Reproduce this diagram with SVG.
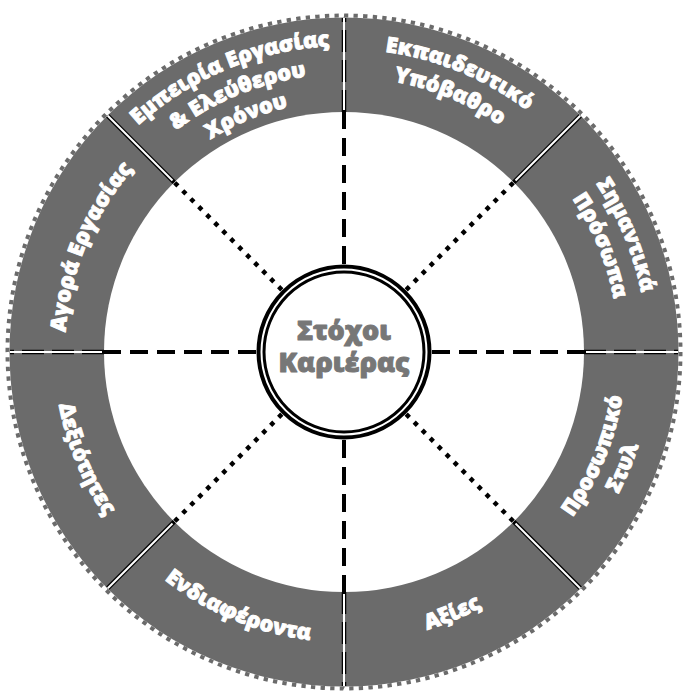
<svg xmlns="http://www.w3.org/2000/svg" xmlns:xlink="http://www.w3.org/1999/xlink" width="685" height="692" viewBox="0 0 685 692">
<style>
.lbl{font-family:"Open Sans","Noto Sans","DejaVu Sans",sans-serif;font-weight:800;font-size:21.5px;fill:#ffffff;stroke:#ffffff;stroke-width:0.9;stroke-linejoin:round;text-anchor:middle}
.ctr{font-family:"Open Sans","Noto Sans","DejaVu Sans",sans-serif;font-weight:800;font-size:27px;fill:#777777;stroke:#777777;stroke-width:1;stroke-linejoin:round;text-anchor:middle}
.dash{stroke:#000;stroke-width:4;stroke-dasharray:18 9;fill:none}
.dot{stroke:#000;stroke-width:4.5;stroke-dasharray:4.5 6.8;fill:none}
.divb{stroke:#000;stroke-width:4.5;fill:none}
.divbd{stroke:#000;stroke-width:4.5;stroke-dasharray:22 8;fill:none}
.divw{stroke:#fff;stroke-width:2;fill:none}
</style>
<defs>
<path id="t303" d="M149.23,119.89 A303 303 0 0 1 538.77,119.89"/>
<path id="t275" d="M167.23,141.34 A275 275 0 0 1 520.77,141.34"/>
<path id="t279" d="M164.66,138.27 A279 279 0 0 1 523.34,138.27"/>
<path id="t306" d="M147.31,117.59 A306 306 0 0 1 540.69,117.59"/>
<path id="t278" d="M165.30,139.04 A278 278 0 0 1 522.70,139.04"/>
<path id="t251" d="M182.66,159.72 A251 251 0 0 1 505.34,159.72"/>
<path id="b282" d="M162.73,568.02 A282 282 0 0 0 525.27,568.02"/>
<path id="b309" d="M145.38,588.71 A309 309 0 0 0 542.62,588.71"/>
<path id="b290" d="M157.59,574.15 A290 290 0 0 0 530.41,574.15"/>
</defs>
<rect width="685" height="692" fill="#fff"/>
<g id="wheel">
<circle cx="344" cy="352" r="334.5" fill="#6b6b6b"/>
<circle cx="344" cy="352" r="336.5" fill="none" stroke="#6b6b6b" stroke-width="4" pathLength="440" stroke-dasharray="0.9 1.1"/>
<circle cx="344" cy="352" r="240" fill="#fff"/>
</g>
<g id="connectors">
<line class="dash" x1="256" y1="352" x2="104" y2="352"/>
<line class="dash" x1="432" y1="352" x2="584" y2="352"/>
<line class="dash" x1="344" y1="264" x2="344" y2="112"/>
<line class="dash" x1="344" y1="440" x2="344" y2="592"/>
<line class="dot" x1="406.2" y1="289.8" x2="513.7" y2="182.3"/>
<line class="dot" x1="406.2" y1="414.2" x2="513.7" y2="521.7"/>
<line class="dot" x1="281.8" y1="414.2" x2="174.3" y2="521.7"/>
<line class="dot" x1="281.8" y1="289.8" x2="174.3" y2="182.3"/>
<line class="divbd" x1="104" y1="352" x2="10" y2="352"/>
<line class="divbd" x1="584" y1="352" x2="678" y2="352"/>
<line class="divbd" x1="344" y1="112" x2="344" y2="18"/>
<line class="divbd" x1="344" y1="592" x2="344" y2="686"/>
<line class="divb" x1="513.7" y1="182.3" x2="580.2" y2="115.8"/>
<line class="divb" x1="513.7" y1="521.7" x2="580.2" y2="588.2"/>
<line class="divb" x1="174.3" y1="521.7" x2="107.8" y2="588.2"/>
<line class="divb" x1="174.3" y1="182.3" x2="107.8" y2="115.8"/>
<line class="divw" x1="102" y1="352" x2="10" y2="352"/>
<line class="divw" x1="586" y1="352" x2="678" y2="352"/>
<line class="divw" x1="344" y1="110" x2="344" y2="18"/>
<line class="divw" x1="344" y1="594" x2="344" y2="686"/>
<line class="divw" x1="515.5" y1="180.5" x2="580.2" y2="115.8"/>
<line class="divw" x1="515.5" y1="523.5" x2="580.2" y2="588.2"/>
<line class="divw" x1="172.5" y1="523.5" x2="107.8" y2="588.2"/>
<line class="divw" x1="172.5" y1="180.5" x2="107.8" y2="115.8"/>
</g>
<g id="center">
<circle cx="344" cy="352" r="85.5" fill="#fff" stroke="#000" stroke-width="4"/>
<circle cx="344" cy="352" r="80" fill="none" stroke="#000" stroke-width="3"/>
<text class="ctr" x="344" y="340">Στόχοι</text>
<text class="ctr" x="344" y="372">Καριέρας</text>
</g>
<g id="sector-education" transform="rotate(22.5 344 352)">
<text class="lbl"><textPath xlink:href="#t303" href="#t303" startOffset="50%">Εκπαιδευτικό</textPath></text>
<text class="lbl"><textPath xlink:href="#t275" href="#t275" startOffset="50%">Υπόβαθρο</textPath></text>
</g>
<g id="sector-people" transform="rotate(67.5 344 352)">
<text class="lbl"><textPath xlink:href="#t303" href="#t303" startOffset="50%">Σημαντικά</textPath></text>
<text class="lbl"><textPath xlink:href="#t275" href="#t275" startOffset="50%">Πρόσωπα</textPath></text>
</g>
<g id="sector-style" transform="rotate(-67.5 344 352)">
<text class="lbl"><textPath xlink:href="#b282" href="#b282" startOffset="50%">Προσωπικό</textPath></text>
<text class="lbl"><textPath xlink:href="#b309" href="#b309" startOffset="50%">Στυλ</textPath></text>
</g>
<g id="sector-values" transform="rotate(-22.5 344 352)">
<text class="lbl"><textPath xlink:href="#b290" href="#b290" startOffset="50%">Αξίες</textPath></text>
</g>
<g id="sector-interests" transform="rotate(22.5 344 352)">
<text class="lbl"><textPath xlink:href="#b290" href="#b290" startOffset="50%">Ενδιαφέροντα</textPath></text>
</g>
<g id="sector-skills" transform="rotate(67.5 344 352)">
<text class="lbl"><textPath xlink:href="#b290" href="#b290" startOffset="50%">Δεξιότητες</textPath></text>
</g>
<g id="sector-market" transform="rotate(-67.5 344 352)">
<text class="lbl"><textPath xlink:href="#t279" href="#t279" startOffset="50%">Αγορά Εργασίας</textPath></text>
</g>
<g id="sector-experience" transform="rotate(-22.5 344 352)">
<text class="lbl"><textPath xlink:href="#t306" href="#t306" startOffset="50%">Εμπειρία Εργασίας</textPath></text>
<text class="lbl"><textPath xlink:href="#t278" href="#t278" startOffset="50%">&amp; Ελεύθερου</textPath></text>
<text class="lbl"><textPath xlink:href="#t251" href="#t251" startOffset="50%">Χρόνου</textPath></text>
</g>
</svg>
